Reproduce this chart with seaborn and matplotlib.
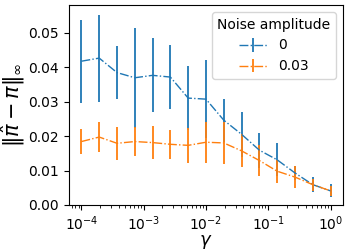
import numpy as np
import matplotlib
matplotlib.use("Agg")
import matplotlib.pyplot as plt
import seaborn as sns

gamma = np.geomspace(1e-4, 1.0, 15)

noise_levels = ["0", "0.03"]

mean_0 = [0.0417, 0.0426, 0.0384, 0.0369, 0.0376, 0.0371, 0.0310, 0.0307,
          0.0246, 0.0205, 0.0159, 0.0131, 0.0093, 0.0059, 0.0041]
err_0 = [0.0120, 0.0126, 0.0076, 0.0145, 0.0107, 0.0092, 0.0092, 0.0114,
         0.0062, 0.0066, 0.0051, 0.0048, 0.0021, 0.0022, 0.0019]

mean_003 = [0.0184, 0.0197, 0.0179, 0.0184, 0.0181, 0.0176, 0.0173, 0.0182,
            0.0180, 0.0157, 0.0129, 0.0098, 0.0081, 0.0059, 0.0041]
err_003 = [0.0037, 0.0043, 0.0048, 0.0043, 0.0048, 0.0042, 0.0051, 0.0060,
           0.0061, 0.0048, 0.0045, 0.0033, 0.0031, 0.0017, 0.0014]

# plain matplotlib look, seaborn only for the palette
colors = sns.color_palette("tab10")
plt.rcParams['font.family'] = ['DejaVu Sans']

fig, ax = plt.subplots(figsize=(3.5, 2.5), dpi=100)

for means, errs, label, c in [(mean_0, err_0, noise_levels[0], colors[0]),
                              (mean_003, err_003, noise_levels[1], colors[1])]:
    ax.errorbar(gamma, means, yerr=errs, color=c, linestyle='-.', linewidth=1,
                elinewidth=1.3, capsize=0, label=label)

ax.set_xscale('log')
ax.set_ylim(0, 0.058)
ax.set_yticks([0.0, 0.01, 0.02, 0.03, 0.04, 0.05])
ax.tick_params(labelsize=10)
ax.set_xlabel(r'$\gamma$', fontsize=13, labelpad=-0.5)
ax.set_ylabel(r'$\|\hat{\pi}-\pi\|_\infty$', fontsize=15, labelpad=1)
ax.legend(title='Noise amplitude', fontsize=10, title_fontsize=10,
          loc='upper right')

fig.subplots_adjust(left=0.197, right=0.98, top=0.98, bottom=0.18)
fig.savefig("out.png")
